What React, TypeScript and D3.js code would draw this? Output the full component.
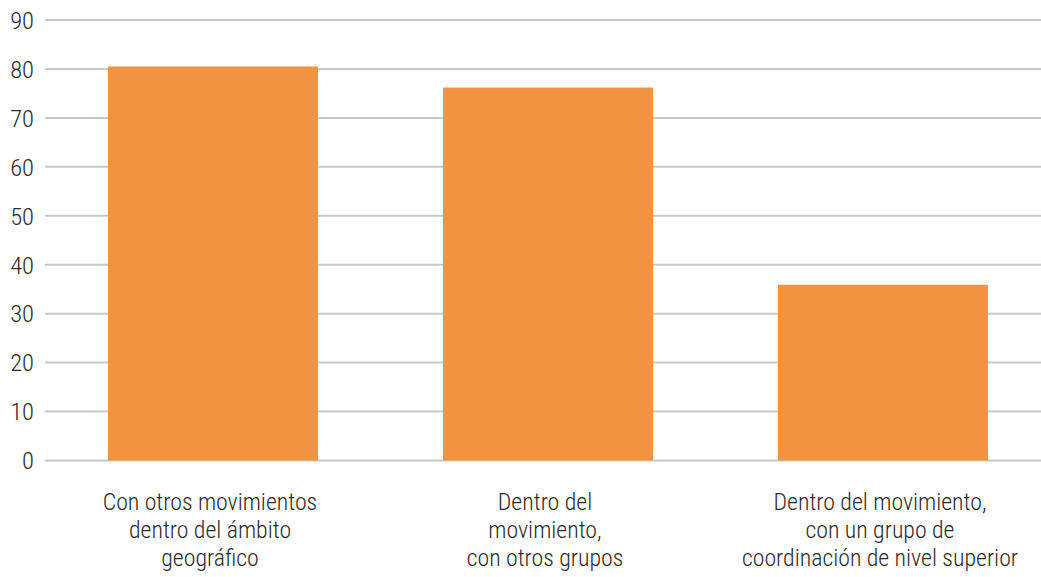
import React from "react";
import * as d3 from "d3";

const categories: string[][] = [
  ["Con otros movimientos", "dentro del ámbito", "geográfico"],
  ["Dentro del", "movimiento,", "con otros grupos"],
  ["Dentro del movimiento,", "con un grupo de", "coordinación de nivel superior"],
];
const values: number[] = [80.5, 76.2, 35.9];
const yTicks: number[] = [0, 10, 20, 30, 40, 50, 60, 70, 80, 90];

const W = 1041;
const H = 577;
const FONT = "'Roboto Condensed', 'Liberation Sans Narrow', 'DejaVu Sans Condensed', 'Liberation Sans', sans-serif";

export default function App() {
  const x = d3
    .scaleBand<number>()
    .domain(categories.map((_, i) => i))
    .range([45.5, 1050.5])
    .paddingInner(0.3731)
    .paddingOuter(0.3731 / 2);
  const y = d3.scaleLinear().domain([0, 90]).range([460.5, 20]);

  return (
    <svg
      width={W}
      height={H}
      style={{ position: "absolute", left: 0, top: 0, background: "#fff" }}
      fontFamily={FONT}
      fontWeight={300}
    >
      {yTicks.map((t) => (
        <g key={t}>
          <line x1={45} x2={W} y1={y(t)} y2={y(t)} stroke="#c9c9c9" strokeWidth={2} />
          <text x={34} y={y(t)} dy="0.36em" textAnchor="end" fontSize={24.5} fill="#2b2b2b">
            {t}
          </text>
        </g>
      ))}
      {values.map((v, i) => (
        <rect
          key={i}
          x={x(i)}
          y={y(v)}
          width={x.bandwidth()}
          height={y(0) - y(v)}
          fill="#F19441"
        />
      ))}
      {categories.map((lines, i) => {
        const cx = (x(i) as number) + x.bandwidth() / 2 - 3;
        return (
          <text key={i} x={cx} y={510} textAnchor="middle" fontSize={23.8} fill="#2b2b2b">
            {lines.map((l, j) => (
              <tspan key={j} x={cx} dy={j === 0 ? 0 : 28}>
                {l}
              </tspan>
            ))}
          </text>
        );
      })}
    </svg>
  );
}
